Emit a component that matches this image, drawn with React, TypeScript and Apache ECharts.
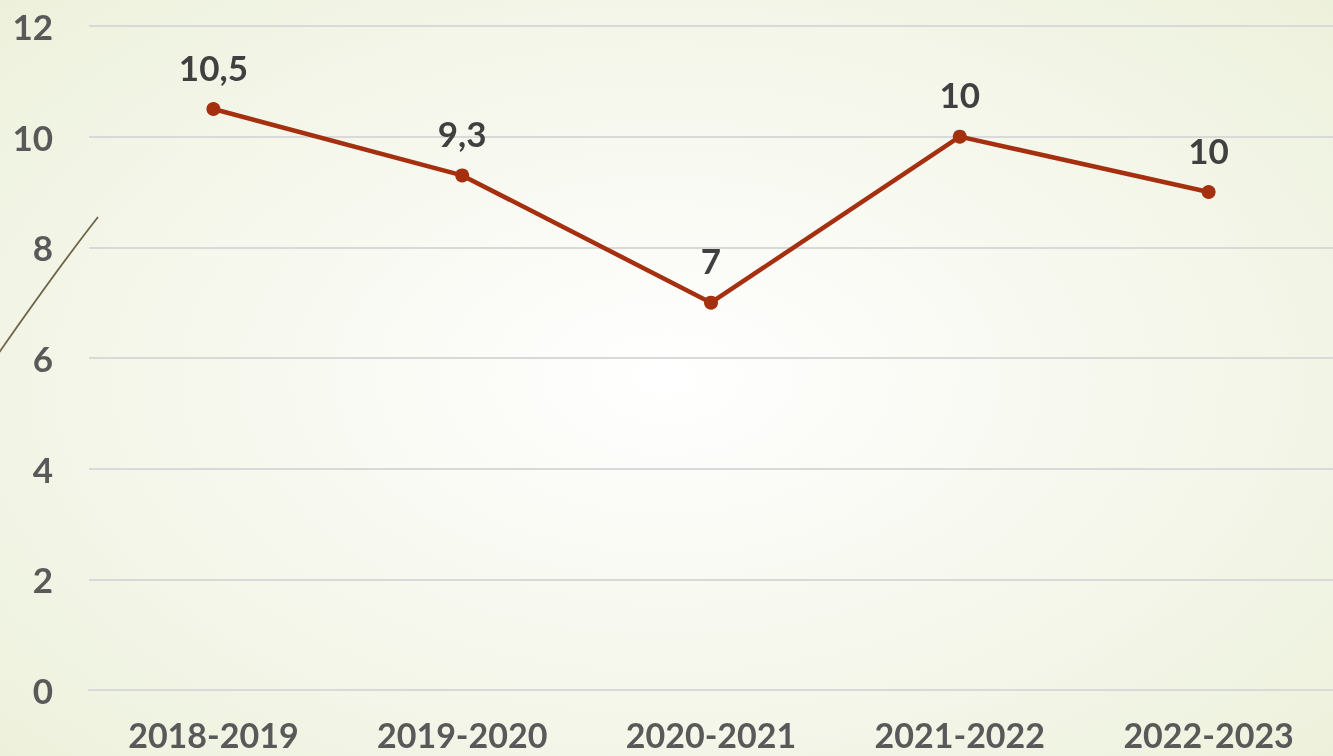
import React, { useEffect, useRef } from "react";
import * as echarts from "echarts";

const categories = ["2018-2019", "2019-2020", "2020-2021", "2021-2022", "2022-2023"];
const values = [10.5, 9.3, 7, 10, 9];
const valueLabels = ["10,5", "9,3", "7", "10", "10"];
const yTicks = { min: 0, max: 12, interval: 2 };

const FONT = "Lato";

export default function App() {
  const ref = useRef<HTMLDivElement>(null);
  useEffect(() => {
    document.body.style.margin = "0";
    const chart = echarts.init(ref.current!, null, { renderer: "svg" });
    chart.setOption({
      animation: false,
      backgroundColor: "transparent",
      grid: { left: 89, top: 26, bottom: 66, width: 1250 },
      xAxis: {
        type: "category",
        data: categories,
        boundaryGap: true,
        axisLine: { show: true, lineStyle: { color: "#d9d9d9", width: 2 } },
        axisTick: { show: false },
        axisLabel: {
          margin: 30,
          lineHeight: 28,
          color: "#595959",
          fontFamily: FONT,
          fontWeight: "bold",
          fontSize: 34,
        },
      },
      yAxis: {
        type: "value",
        min: yTicks.min,
        max: yTicks.max,
        interval: yTicks.interval,
        axisLine: { show: false },
        axisTick: { show: false },
        splitLine: { lineStyle: { color: "#d9d9d9", width: 2 } },
        axisLabel: {
          margin: 36,
          color: "#595959",
          fontFamily: FONT,
          fontWeight: "bold",
          fontSize: 35,
        },
      },
      graphic: [
        {
          type: "bezierCurve",
          shape: { x1: 98, y1: 217, cpx1: 55, cpy1: 272, x2: -4, y2: 357 },
          style: { stroke: "#6e6548", lineWidth: 1.8, fill: "none" },
          silent: true,
        },
      ],
      series: [
        {
          type: "line",
          data: values,
          symbol: "circle",
          symbolSize: 14,
          lineStyle: { color: "#A5300F", width: 4.5 },
          itemStyle: { color: "#A5300F" },
          label: {
            show: true,
            position: "top",
            distance: 18,
            color: "#404040",
            fontFamily: FONT,
            fontWeight: "bold",
            fontSize: 35,
            formatter: (p: any) => valueLabels[p.dataIndex],
          },
        },
      ],
    });
    return () => chart.dispose();
  }, []);
  return (
    <div
      ref={ref}
      style={{
        position: "fixed",
        left: 0,
        top: 0,
        width: 1333,
        height: 756,
        background:
          "radial-gradient(ellipse 75% 80% at 50% 50%, #ffffff 0%, #f6f8ee 45%, #ebf0d8 100%)",
      }}
    />
  );
}
